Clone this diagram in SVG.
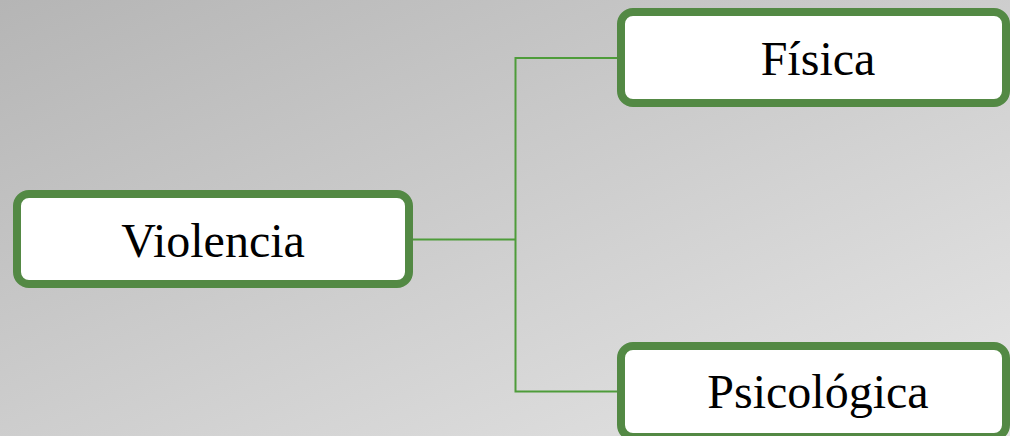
<svg xmlns="http://www.w3.org/2000/svg" width="1010" height="436" viewBox="0 0 1010 436">
<defs>
<linearGradient id="bg" x1="0" y1="0" x2="1" y2="1">
<stop offset="0" stop-color="#b5b5b5"/>
<stop offset="1" stop-color="#e6e6e6"/>
</linearGradient>
<style>
.box{fill:#ffffff;stroke:#538944;stroke-width:8}
.lbl{font-family:"Liberation Serif","Times New Roman",serif;font-size:48px;fill:#000000;text-anchor:middle}
.conn{fill:none;stroke:#4e9c3a;stroke-width:2}
</style>
</defs>
<rect x="0" y="0" width="1010" height="436" fill="url(#bg)"/>
<g id="connectors">
<path class="conn" d="M409 239.5 H515.5 M515.5 58 V391.5 M514.5 58 H621 M514.5 391.5 H621"/>
</g>
<g id="node-violencia">
<rect class="box" x="17" y="194" width="392" height="90" rx="12"/>
<text class="lbl" x="213" y="257">Violencia</text>
</g>
<g id="node-fisica">
<rect class="box" x="621" y="12" width="385" height="91" rx="12"/>
<text class="lbl" x="818" y="75">Física</text>
</g>
<g id="node-psicologica">
<rect class="box" x="621" y="346" width="385" height="91" rx="12"/>
<text class="lbl" x="818" y="408">Psicológica</text>
</g>
</svg>
